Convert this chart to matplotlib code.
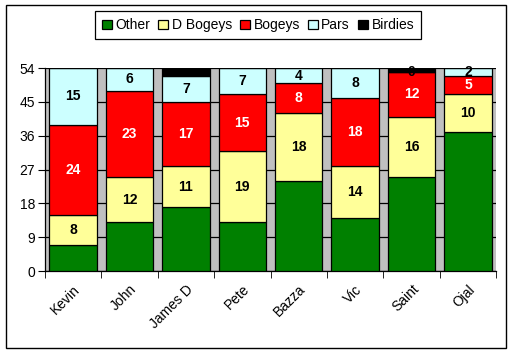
import matplotlib
matplotlib.use("Agg")
import matplotlib.pyplot as plt
from matplotlib.patches import Rectangle
import numpy as np

plt.rcParams['font.family'] = ['Liberation Sans', 'DejaVu Sans']

# datos
jugadores = ["Kevin", "John", "James D", "Pete", "Bazza", "Vic", "Saint", "Ojal"]
series = ["Other", "D Bogeys", "Bogeys", "Pars", "Birdies"]
other = [7, 13, 17, 13, 24, 14, 25, 37]
d_bogeys = [8, 12, 11, 19, 18, 14, 16, 10]
bogeys = [24, 23, 17, 15, 8, 18, 12, 5]
pars = [15, 6, 7, 7, 4, 8, 0, 2]
birdies = [0, 0, 2, 0, 0, 0, 1, 0]
y_ticks = [0, 9, 18, 27, 36, 45, 54]

colores = ["#008000", "#FFFF99", "#FF0000", "#CCFFFF", "#000000"]
color_texto = [None, "black", "white", "black", None]

fig = plt.figure(figsize=(5.11, 3.53), dpi=100)
ax = fig.add_axes([0.088, 0.232, 0.883, 0.575])
ax.set_facecolor("#C0C0C0")

x = np.arange(len(jugadores))
base = np.zeros(len(jugadores))
valores = [other, d_bogeys, bogeys, pars, birdies]
for nombre, vals, col, ct in zip(series, valores, colores, color_texto):
    vals = np.array(vals)
    ax.bar(x, vals, bottom=base, width=0.84, color=col,
           edgecolor="black", linewidth=0.9, label=nombre, zorder=3)
    if ct is not None:
        for xi, b, v in zip(x, base, vals):
            if nombre == "Pars" and v == 0 and birdies[xi] == 0:
                continue
            ax.text(xi, b + v / 2, str(v), ha="center", va="center",
                    color=ct, fontsize=10, fontweight="bold", zorder=4)
    base = base + vals

ax.set_xlim(-0.5, len(jugadores) - 0.5)
ax.set_ylim(0, 54)
ax.set_yticks(y_ticks)
ax.yaxis.grid(True, color="black", linewidth=0.9, zorder=1)
ax.set_axisbelow(True)
ax.tick_params(axis="y", direction="out", length=5, labelsize=10, pad=2)

ax.set_xticks(x)
ax.set_xticklabels(jugadores, rotation=45, ha="right", rotation_mode="anchor", fontsize=10)
ax.set_xticks(np.arange(len(jugadores) + 1) - 0.5, minor=True)
ax.tick_params(axis="x", which="major", length=0, pad=8)
ax.tick_params(axis="x", which="minor", direction="out", length=5)

for s in ["top", "right"]:
    ax.spines[s].set_visible(False)
for s in ["left", "bottom"]:
    ax.spines[s].set_linewidth(0.9)

leg = fig.legend(loc="center", bbox_to_anchor=(0.505, 0.928), ncol=5, fontsize=10,
                 frameon=True, fancybox=False, edgecolor="black", framealpha=1,
                 handlelength=0.7, handleheight=0.7, handletextpad=0.25,
                 columnspacing=0.6, borderpad=0.5, borderaxespad=0.3)
leg.get_frame().set_linewidth(0.9)

fig.patches.append(Rectangle((0.011, 0.014), 0.980, 0.971, transform=fig.transFigure,
                             fill=False, edgecolor="black", linewidth=1))

fig.savefig("out.png", dpi=100)
